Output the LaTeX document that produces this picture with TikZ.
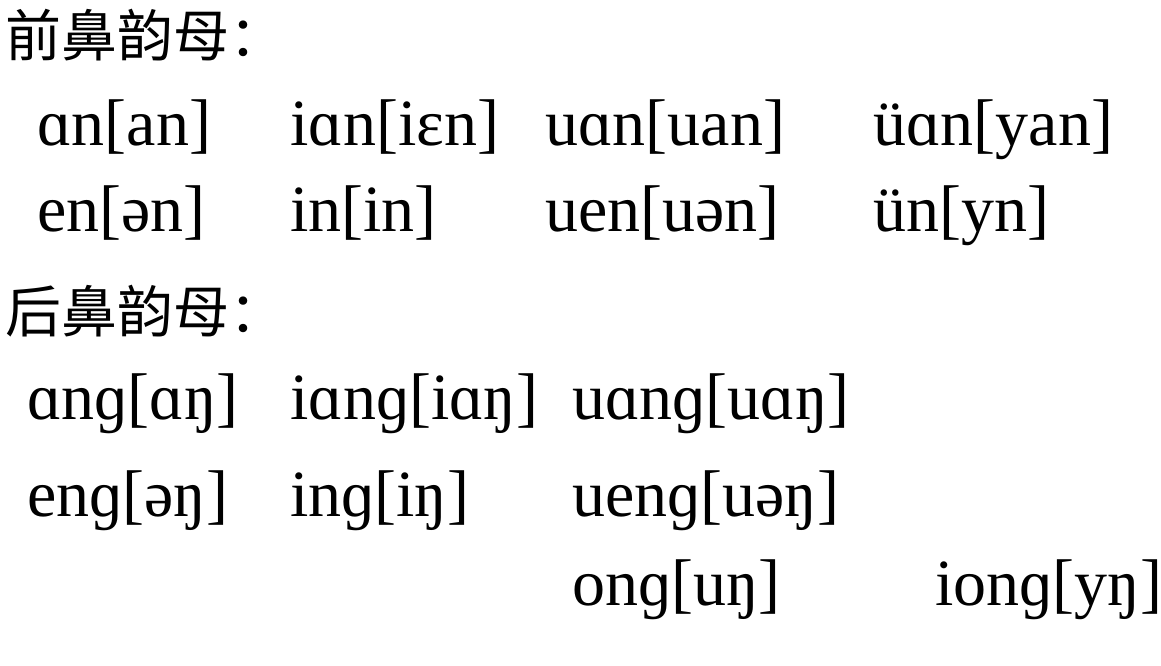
\documentclass[tikz,border=0pt]{standalone}
\usepackage{fontspec}
\newfontfamily\ipa{Liberation Serif}
\newfontfamily\cjk{Noto Sans CJK SC}
\usepackage{tikz}

\begin{document}
\begin{tikzpicture}[x=1pt,y=1pt,
    yunmu/.style={anchor=base west, inner sep=0pt, font=\ipa\fontsize{66}{72}\selectfont},
    heading/.style={anchor=base west, inner sep=0pt, font=\cjk\fontsize{56}{60}\selectfont}]
  % Canvas of the same size as the reference
  \useasboundingbox (0,0) rectangle (1161,666);

  % --- Front nasal finals, row 1 and row 2
  \node[yunmu] (an)  at (37,520)  {ɑn[an]};
  \node[yunmu] (ian) at (290,520) {iɑn[iɛn]};
  \node[yunmu] (uan) at (545,520) {uɑn[uan]};
  \node[yunmu] (van) at (873,520) {üɑn[yan]};
  \node[yunmu] (en)  at (37,434)  {en[ən]};
  \node[yunmu] (in)  at (290,434) {in[in]};
  \node[yunmu] (uen) at (545,434) {uen[uən]};
  \node[yunmu] (vn)  at (873,434) {ün[yn]};

  % --- Back nasal finals, rows 3 to 5
  \node[yunmu] (ang)  at (27,246)  {ɑnɡ[ɑŋ]};
  \node[yunmu] (iang) at (290,246) {iɑnɡ[iɑŋ]};
  \node[yunmu] (uang) at (572,246) {uɑnɡ[uɑŋ]};
  \node[yunmu] (eng)  at (27,149)  {enɡ[əŋ]};
  \node[yunmu] (ing)  at (290,149) {inɡ[iŋ]};
  \node[yunmu] (ueng) at (572,149) {uenɡ[uəŋ]};
  \node[yunmu] (ong)  at (572,60)  {onɡ[uŋ]};
  \node[yunmu] (iong) at (935,60)  {ionɡ[yŋ]};

  % --- Headings
  \node[heading] (front) at (5,609) {前鼻韵母：};
  \node[heading] (back)  at (5,333) {后鼻韵母：};
\end{tikzpicture}
\end{document}
